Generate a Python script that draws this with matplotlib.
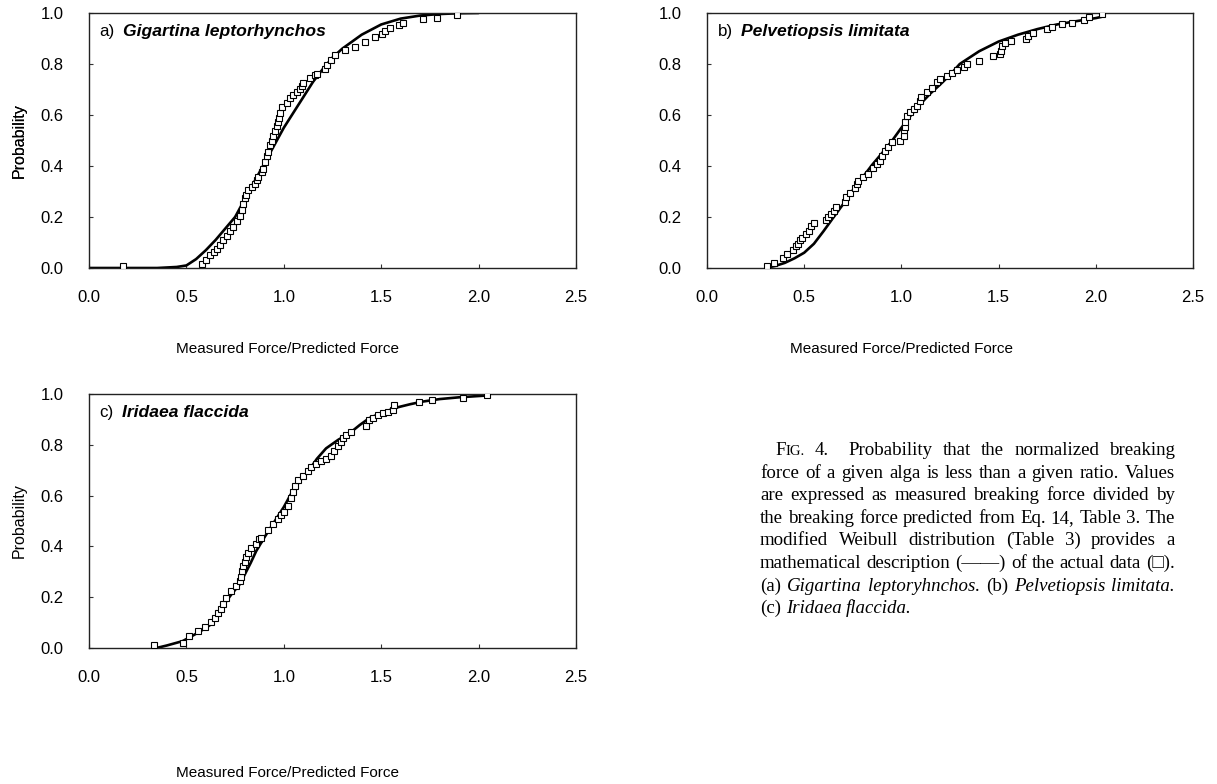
import matplotlib
matplotlib.use("Agg")
import matplotlib.pyplot as plt
from matplotlib.font_manager import FontProperties

# ---------------- data ----------------
A_OBS_X = [0.173, 0.578, 0.600, 0.621, 0.640, 0.655, 0.672, 0.689, 0.707, 0.724, 0.741, 0.758,
           0.775, 0.784, 0.792, 0.801, 0.804, 0.818, 0.835, 0.852, 0.860, 0.869, 0.887, 0.895,
           0.903, 0.912, 0.920, 0.929, 0.938, 0.946, 0.955, 0.965, 0.972, 0.977, 0.980, 0.989,
           1.015, 1.032, 1.049, 1.066, 1.083, 1.095, 1.100, 1.134, 1.158, 1.169, 1.211, 1.220,
           1.240, 1.263, 1.314, 1.366, 1.417, 1.468, 1.503, 1.520, 1.545, 1.593, 1.614, 1.716,
           1.785, 1.888]
A_OBS_Y = [0.008, 0.014, 0.030, 0.050, 0.062, 0.074, 0.091, 0.109, 0.127, 0.145, 0.162, 0.186,
           0.204, 0.228, 0.252, 0.275, 0.287, 0.305, 0.317, 0.328, 0.346, 0.358, 0.376, 0.388,
           0.417, 0.441, 0.453, 0.483, 0.500, 0.518, 0.536, 0.555, 0.572, 0.590, 0.607, 0.631,
           0.649, 0.667, 0.679, 0.690, 0.702, 0.715, 0.726, 0.744, 0.756, 0.762, 0.779, 0.797,
           0.815, 0.835, 0.854, 0.868, 0.886, 0.904, 0.916, 0.928, 0.940, 0.954, 0.961, 0.975,
           0.981, 0.993]
A_FIT_X = [0.0, 0.35, 0.45, 0.50, 0.55, 0.60, 0.65, 0.70, 0.75, 0.80, 0.85, 0.90, 0.95, 1.00,
           1.05, 1.10, 1.15, 1.20, 1.25, 1.30, 1.40, 1.50, 1.60, 1.70, 1.80, 1.90, 2.00]
A_FIT_Y = [0.0, 0.0, 0.004, 0.010, 0.035, 0.070, 0.110, 0.155, 0.200, 0.270, 0.340, 0.410, 0.480,
           0.550, 0.610, 0.670, 0.730, 0.780, 0.825, 0.860, 0.915, 0.955, 0.978, 0.990, 0.996,
           0.999, 1.000]

B_OBS_X = [0.311, 0.346, 0.389, 0.414, 0.440, 0.456, 0.466, 0.480, 0.491, 0.508, 0.525, 0.534,
           0.551, 0.612, 0.620, 0.638, 0.654, 0.664, 0.708, 0.716, 0.734, 0.760, 0.770, 0.777,
           0.803, 0.829, 0.855, 0.873, 0.890, 0.898, 0.916, 0.933, 0.951, 0.994, 1.011, 1.011,
           1.020, 1.020, 1.029, 1.046, 1.063, 1.081, 1.098, 1.100, 1.132, 1.159, 1.185, 1.201,
           1.237, 1.262, 1.288, 1.320, 1.340, 1.401, 1.470, 1.505, 1.510, 1.520, 1.531, 1.566,
           1.640, 1.653, 1.679, 1.750, 1.774, 1.826, 1.878, 1.939, 1.965, 2.031]
B_OBS_Y = [0.008, 0.020, 0.038, 0.056, 0.071, 0.085, 0.096, 0.108, 0.118, 0.132, 0.145, 0.163,
           0.175, 0.188, 0.199, 0.211, 0.225, 0.241, 0.259, 0.277, 0.295, 0.313, 0.331, 0.343,
           0.355, 0.367, 0.391, 0.409, 0.421, 0.439, 0.457, 0.475, 0.493, 0.499, 0.517, 0.541,
           0.553, 0.571, 0.595, 0.613, 0.625, 0.637, 0.655, 0.671, 0.692, 0.704, 0.728, 0.740,
           0.752, 0.764, 0.776, 0.787, 0.800, 0.812, 0.830, 0.840, 0.850, 0.872, 0.884, 0.892,
           0.900, 0.908, 0.920, 0.936, 0.944, 0.956, 0.962, 0.972, 0.986, 0.996]
B_FIT_X = [0.30, 0.35, 0.40, 0.45, 0.50, 0.55, 0.60, 0.65, 0.70, 0.75, 0.80, 0.85, 0.90, 0.95,
           1.00, 1.05, 1.10, 1.15, 1.20, 1.25, 1.30, 1.40, 1.50, 1.60, 1.70, 1.80, 1.90, 2.00, 2.03]
B_FIT_Y = [0.0, 0.008, 0.020, 0.038, 0.060, 0.095, 0.145, 0.198, 0.250, 0.305, 0.355, 0.405,
           0.450, 0.497, 0.550, 0.600, 0.645, 0.685, 0.720, 0.757, 0.800, 0.850, 0.888, 0.915,
           0.937, 0.955, 0.968, 0.980, 0.985]

C_OBS_X = [0.334, 0.480, 0.512, 0.560, 0.594, 0.628, 0.645, 0.662, 0.679, 0.688, 0.705, 0.730,
           0.756, 0.773, 0.782, 0.787, 0.790, 0.799, 0.807, 0.816, 0.833, 0.858, 0.875, 0.884,
           0.918, 0.944, 0.969, 0.986, 1.003, 1.020, 1.038, 1.046, 1.055, 1.072, 1.097, 1.123,
           1.140, 1.166, 1.191, 1.217, 1.242, 1.259, 1.277, 1.294, 1.303, 1.320, 1.346, 1.422,
           1.435, 1.457, 1.482, 1.508, 1.534, 1.559, 1.567, 1.695, 1.763, 1.920, 2.044]
C_OBS_Y = [0.010, 0.018, 0.048, 0.065, 0.083, 0.101, 0.119, 0.137, 0.155, 0.173, 0.196, 0.226,
           0.244, 0.262, 0.280, 0.304, 0.321, 0.339, 0.357, 0.375, 0.393, 0.411, 0.429, 0.435,
           0.464, 0.488, 0.506, 0.524, 0.536, 0.560, 0.589, 0.613, 0.637, 0.661, 0.679, 0.696,
           0.714, 0.726, 0.738, 0.744, 0.756, 0.774, 0.797, 0.810, 0.827, 0.839, 0.851, 0.875,
           0.899, 0.907, 0.917, 0.926, 0.931, 0.938, 0.958, 0.967, 0.976, 0.986, 0.998]
C_FIT_X = [0.346, 0.40, 0.48, 0.517, 0.57, 0.619, 0.65, 0.688, 0.73, 0.773, 0.80, 0.83, 0.858,
           0.90, 0.944, 1.00, 1.046, 1.09, 1.131, 1.17, 1.217, 1.28, 1.337, 1.39, 1.439, 1.50,
           1.576, 1.65, 1.712, 1.80, 1.90, 2.04]
C_FIT_Y = [0.0, 0.010, 0.027, 0.042, 0.065, 0.089, 0.120, 0.167, 0.210, 0.250, 0.290, 0.335,
           0.381, 0.435, 0.488, 0.555, 0.619, 0.665, 0.702, 0.745, 0.786, 0.820, 0.845, 0.878,
           0.905, 0.925, 0.946, 0.960, 0.970, 0.980, 0.987, 0.994]

PANEL_TAGS = ["a)", "b)", "c)"]
SPECIES = ["Gigartina leptorhynchos", "Pelvetiopsis limitata", "Iridaea flaccida"]
X_TICKS = [0.0, 0.5, 1.0, 1.5, 2.0, 2.5]
Y_TICKS = [0.0, 0.2, 0.4, 0.6, 0.8, 1.0]
X_LABEL = "Measured Force/Predicted Force"
Y_LABEL = "Probability"

# ---------------- layout ----------------
W, H = 1217, 784
fig = plt.figure(figsize=(W / 100, H / 100), dpi=100)
fig.patch.set_facecolor("white")

SANS = "Liberation Sans"
SERIF = ["Liberation Serif", "DejaVu Serif"]
TICK_FS = 12


def rect(l, t, r, b):
    return [l / W, 1 - b / H, (r - l) / W, (b - t) / H]


panels = [
    (rect(89, 13, 576, 268), A_OBS_X, A_OBS_Y, A_FIT_X, A_FIT_Y, 349, 288),
    (rect(707, 13, 1193, 268), B_OBS_X, B_OBS_Y, B_FIT_X, B_FIT_Y, 349, 902),
    (rect(89, 394, 576, 648), C_OBS_X, C_OBS_Y, C_FIT_X, C_FIT_Y, 773, 288),
]

for i, (r, ox, oy, fx, fy, xl_y, xl_x) in enumerate(panels):
    ax = fig.add_axes(r)
    ax.plot(fx, fy, color="black", lw=1.9, solid_capstyle="round", zorder=2)
    ax.plot(ox, oy, linestyle="none", marker="s", ms=4.2, mfc="white", mec="black",
            mew=0.8, zorder=3)
    ax.set_xlim(0, 2.5)
    ax.set_ylim(0, 1.0)
    ax.set_xticks(X_TICKS)
    ax.set_yticks(Y_TICKS)
    ax.set_xticklabels([f"{v:.1f}" for v in X_TICKS], fontfamily=SANS, fontsize=TICK_FS)
    ax.set_yticklabels([f"{v:.1f}" for v in Y_TICKS], fontfamily=SANS, fontsize=TICK_FS)
    ax.tick_params(direction="in", length=3, width=0.8, color="#333333")
    ax.tick_params(axis="x", pad=16)
    ax.tick_params(axis="y", pad=18.5)
    for s in ax.spines.values():
        s.set_linewidth(1.0)
        s.set_color("#222222")
    # axis labels
    bb = ax.get_position()
    ax.set_ylabel(Y_LABEL, fontfamily=SANS, fontsize=11.5, va="center")
    ax.yaxis.set_label_coords((19 / W - bb.x0) / bb.width, 0.5)
    ax.set_xlabel(X_LABEL, fontfamily=SANS, fontsize=11, va="center")
    ax.xaxis.set_label_coords((xl_x / W - bb.x0) / bb.width,
                              ((1 - xl_y / H) - bb.y0) / bb.height)
    # panel tag + species
    t1 = ax.text(0.022, 0.91, PANEL_TAGS[i], transform=ax.transAxes, fontfamily=SANS,
                 fontsize=12.2, va="baseline", ha="left")
    ax.annotate(SPECIES[i], xy=(1, 0), xycoords=t1, xytext=(6, 0),
                textcoords="offset points", va="bottom", ha="left",
                fontfamily=SANS, fontsize=12.6, fontstyle="italic", fontweight="bold")

# ---------------- caption (justified) ----------------
CAP_SIZE = 13.6
fp_r = FontProperties(family=SERIF, size=CAP_SIZE)
fp_i = FontProperties(family=SERIF, size=CAP_SIZE, style="italic")
fp_sc = FontProperties(family=SERIF, size=CAP_SIZE * 0.78)

R, I = "r", "i"
caption_lines = [
    [[("F", R), ("IG.", "sc")], [("4.", R)], [("", R)], [("Probability", R)], [("that", R)],
     [("the", R)], [("normalized", R)], [("breaking", R)]],
    "force of a given alga is less than a given ratio. Values",
    "are expressed as measured breaking force divided by",
    "the breaking force predicted from Eq. 14, Table 3. The",
    "modified Weibull distribution (Table 3) provides a",
    "mathematical description (\u2014\u2014) of the actual data (\u25a1).",
    [[("(a)", R)], [("Gigartina", I)], [("leptoryhnchos.", I)], [("(b)", R)],
     [("Pelvetiopsis", I)], [("limitata.", I)]],
    [[("(c)", R)], [("Iridaea", I)], [("flaccida.", I)]],
]
fps = {R: fp_r, I: fp_i, "sc": fp_sc}

fig.canvas.draw()
renderer = fig.canvas.get_renderer()


def seg_width(text, fp):
    if not text:
        return 0.0
    t = fig.text(0, 0, text, fontproperties=fp)
    w = t.get_window_extent(renderer).width
    t.remove()
    return w


LEFT, RIGHT = 760, 1175
line_y0, line_dy = 455, 22.6
space = seg_width("a b", fp_r) - seg_width("ab", fp_r)
for k, line in enumerate(caption_lines):
    if isinstance(line, str):
        words = [[(w, R)] for w in line.split(" ")]
    else:
        words = line
    x_start = 775 if k == 0 else LEFT
    widths = [sum(seg_width(t, fps[s]) for t, s in w) for w in words]
    n = len(words)
    justify = k < len(caption_lines) - 1
    if justify and n > 1:
        gap = (RIGHT - x_start - sum(widths)) / (n - 1)
    else:
        gap = space
    x = x_start
    y = 1 - (line_y0 + k * line_dy) / H
    for w, wd in zip(words, widths):
        xx = x
        for t, s in w:
            if t:
                fig.text(xx / W, y, t, fontproperties=fps[s], va="baseline", ha="left")
                xx += seg_width(t, fps[s])
        x += wd + gap

fig.savefig("out.png", dpi=100, facecolor="white")
